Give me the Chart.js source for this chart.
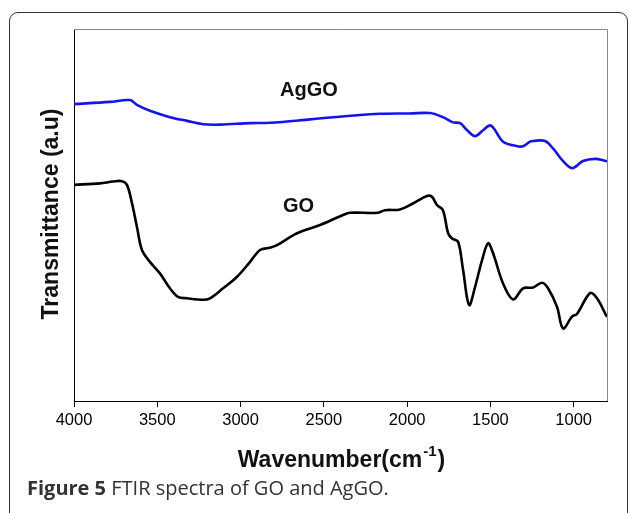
<!DOCTYPE html>
<html>
<head>
<meta charset="utf-8">
<script src="https://cdn.jsdelivr.net/npm/chart.js@4.4.1/dist/chart.umd.min.js"></script>
<style>
  html, body { margin: 0; padding: 0; background: #fff; overflow: hidden; }
  #wrap { position: relative; width: 629px; height: 513px; }
  #frame { position: absolute; left: 9px; top: 12px; width: 619px; height: 540px;
           border: 1.5px solid #333; border-radius: 9px; box-sizing: border-box; }
  canvas { position: absolute; left: 0; top: 0; }
  #caption { position: absolute; left: 27px; top: 474px; font-family: "Open Sans", sans-serif;
             font-size: 20px; color: #333; white-space: nowrap; }
</style>
</head>
<body>
<div id="wrap">
  <div id="frame"></div>
  <canvas id="ftir" width="629" height="513"></canvas>
  <div id="caption"><b>Figure 5</b> FTIR spectra of GO and AgGO.</div>
</div>
<script>
// wavenumbers (cm-1) and transmittance (a.u.)
const agWave = [4000, 3784, 3664, 3622, 3544, 3424, 3322, 3225, 3123, 2943, 2823, 2583, 2283, 2163, 1983, 1863,
  1785, 1724, 1682, 1640, 1592, 1544, 1502, 1472, 1424, 1340, 1304, 1262, 1244, 1172, 1124, 1070, 1010, 944, 872, 812, 800];
const agTrans = [79.8, 80.4, 80.9, 79.6, 78.0, 76.3, 75.3, 74.4, 74.3, 74.7, 74.8, 75.7, 76.9, 77.2, 77.3, 77.4,
  76.3, 74.9, 74.7, 72.8, 71.2, 72.8, 74.1, 72.8, 69.7, 68.5, 68.5, 69.7, 69.9, 69.9, 67.9, 64.8, 62.6, 64.5, 65.1, 64.6, 64.4];

const goWave = [4000, 3844, 3766, 3712, 3682, 3652, 3622, 3592, 3544, 3484, 3424, 3376, 3322, 3225, 3183, 3105,
  3021, 2943, 2883, 2823, 2781, 2661, 2523, 2385, 2343, 2175, 2133, 2043, 1965, 1881, 1851, 1821, 1785, 1754,
  1730, 1694, 1664, 1628, 1592, 1550, 1514, 1484, 1424, 1364, 1304, 1244, 1190, 1154, 1100, 1064, 1010, 980,
  902, 860, 806, 800];
const goTrans = [58.1, 58.5, 59.0, 59.1, 58.1, 53.2, 46.8, 40.6, 37.4, 34.3, 30.3, 28.0, 27.6, 27.2, 27.6, 30.3,
  33.4, 37.4, 40.6, 41.2, 41.9, 45.1, 47.3, 50.0, 50.6, 50.6, 51.3, 51.5, 53.1, 55.1, 54.9, 52.7, 51.3, 45.1,
  43.7, 42.8, 35.2, 25.8, 30.7, 37.9, 42.4, 39.7, 31.6, 27.3, 30.3, 30.5, 31.8, 30.3, 25.3, 19.5, 22.7, 23.4,
  29.0, 27.6, 23.1, 22.6];

const xTicks = [4000, 3500, 3000, 2500, 2000, 1500, 1000];
const labels = [
  { text: 'AgGO', x: 2763, y: 82.0 },
  { text: 'GO', x: 2745, y: 50.8 }
];

const FONT = '"Liberation Sans", Arial, sans-serif';
const toPts = (xs, ys) => xs.map((x, i) => ({ x, y: ys[i] }));

const framePlugin = {
  id: 'frame',
  afterDatasetsDraw(chart) {
    const { ctx, chartArea: a, scales } = chart;
    ctx.save();
    // top and right edges of the plot box are grey
    ctx.strokeStyle = '#8a8a8a';
    ctx.lineWidth = 1;
    ctx.beginPath();
    ctx.moveTo(a.left, a.top + 0.5);
    ctx.lineTo(a.right + 0.5, a.top + 0.5);
    ctx.lineTo(a.right + 0.5, a.bottom);
    ctx.stroke();
    // series labels
    ctx.fillStyle = '#111';
    ctx.font = 'bold 20px ' + FONT;
    ctx.textAlign = 'left';
    ctx.textBaseline = 'alphabetic';
    labels.forEach(l => ctx.fillText(l.text, scales.x.getPixelForValue(l.x), scales.y.getPixelForValue(l.y)));
    // x title with superscript
    const main = 'Wavenumber(cm';
    ctx.font = 'bold 23px ' + FONT;
    const w1 = ctx.measureText(main).width;
    const w3 = ctx.measureText(')').width;
    ctx.font = 'bold 15px ' + FONT;
    const w2 = ctx.measureText('-1').width;
    const x0 = (a.left + a.right) / 2 - (w1 + w2 + w3) / 2;
    const by = 467;
    ctx.font = 'bold 23px ' + FONT;
    ctx.fillText(main, x0, by);
    ctx.fillText(')', x0 + w1 + w2 + 2, by);
    ctx.font = 'bold 15px ' + FONT;
    ctx.fillText('-1', x0 + w1 + 1, by - 11);
    // y title
    ctx.font = 'bold 23px ' + FONT;
    ctx.translate(58, 214);
    ctx.rotate(-Math.PI / 2);
    ctx.textAlign = 'center';
    ctx.fillText('Transmittance (a.u)', 0, 0);
    ctx.restore();
  }
};

new Chart(document.getElementById('ftir'), {
  type: 'line',
  data: {
    datasets: [
      { label: 'AgGO', data: toPts(agWave, agTrans), borderColor: '#1414f0', borderWidth: 2.6, pointRadius: 0, tension: 0.35, fill: false },
      { label: 'GO', data: toPts(goWave, goTrans), borderColor: '#000', borderWidth: 2.6, pointRadius: 0, tension: 0.35, fill: false }
    ]
  },
  options: {
    responsive: false,
    animation: false,
    layout: { padding: { left: 74, top: 29, right: 22, bottom: 0 } },
    plugins: { legend: { display: false }, tooltip: { enabled: false } },
    scales: {
      x: {
        type: 'linear', reverse: true, min: 800, max: 4000,
        afterBuildTicks: s => { s.ticks = xTicks.map(v => ({ value: v })); },
        afterFit: s => { s.height = 112; },
        grid: { display: true, drawOnChartArea: false, drawTicks: true, tickLength: 6, color: '#000' },
        border: { display: true, color: '#000', width: 1 },
        ticks: { color: '#000', padding: 4, maxRotation: 0, callback: v => String(v), font: { family: FONT, size: 16.5 } }
      },
      y: {
        min: 0, max: 100,
        afterFit: s => { s.width = 0; },
        grid: { display: false, drawTicks: false },
        border: { display: true, color: '#000', width: 1 },
        ticks: { display: false }
      }
    }
  },
  plugins: [framePlugin]
});
</script>
</body>
</html>
